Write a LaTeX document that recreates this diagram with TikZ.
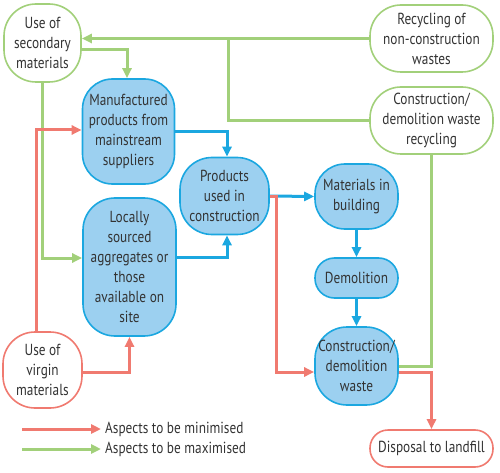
\documentclass[tikz,border=0pt]{standalone}
\usepackage{fontspec}
\setmainfont{PT Sans}[FakeStretch=0.83]
\usetikzlibrary{arrows.meta}
\definecolor{bfill}{HTML}{9CD0F0}
\definecolor{bline}{HTML}{1BA7E0}
\definecolor{gline}{HTML}{A2D07A}
\definecolor{rline}{HTML}{F07A70}
\definecolor{txt}{HTML}{333333}
\tikzset{
  box/.style={draw, line width=1.6pt, rectangle, align=center, text=txt, inner sep=0pt,
    font=\fontsize{16}{20}\selectfont},
  bluebox/.style={box, draw=bline, fill=bfill},
  greenbox/.style={box, draw=gline, fill=white},
  redbox/.style={box, draw=rline, fill=white},
  conn/.style={line width=3pt, -{Triangle[length=10pt,width=9pt]}},
  gconn/.style={conn, draw=gline, color=gline},
  rconn/.style={conn, draw=rline, color=rline},
  bconn/.style={conn, draw=bline, color=bline},
  plain/.style={line width=3pt},
  legtext/.style={anchor=west, inner sep=0pt, text=txt, font=\fontsize{16}{18}\selectfont},
}
\begin{document}
\begin{tikzpicture}[x=1pt,y=-1pt]
\useasboundingbox (0,0) rectangle (500,473);
% nodes
\node[greenbox, minimum width=77, minimum height=78, rounded corners=32] (sec) at (42.5,43) {Use of\\secondary\\materials};
\node[greenbox, minimum width=123, minimum height=67, rounded corners=31] (nonc) at (431.5,38.5) {Recycling of\\non-construction\\wastes};
\node[greenbox, minimum width=123, minimum height=67, rounded corners=31] (cdr) at (431.5,120.5) {Construction/\\demolition waste\\recycling};
\node[bluebox, minimum width=92, minimum height=105, rounded corners=30] (manu) at (128.5,131.5) {Manufactured\\products from\\mainstream\\suppliers};
\node[bluebox, minimum width=89, minimum height=77, rounded corners=32] (prod) at (224.5,196) {Products\\used in\\construction};
\node[bluebox, minimum width=93, minimum height=138, rounded corners=32] (loc) at (129.5,267) {Locally\\sourced\\aggregates or\\those\\available on\\site};
\node[bluebox, minimum width=83, minimum height=65, rounded corners=30] (mat) at (356.5,196.5) {Materials in\\building};
\node[bluebox, minimum width=83, minimum height=40, rounded corners=19.5] (dem) at (356.5,278) {Demolition};
\node[bluebox, minimum width=83, minimum height=78, rounded corners=32] (cdw) at (356.5,366) {Construction/\\demolition\\waste};
\node[redbox, minimum width=123, minimum height=37, rounded corners=18] (land) at (431.5,448.5) {Disposal to landfill};
\node[redbox, minimum width=79, minimum height=76, rounded corners=32] (vir) at (42.5,370) {Use of\\virgin\\materials};
% junction coordinates
\coordinate (j1) at (228,38.5);
\coordinate (rt) at (276,196);
% blue connectors
\draw[bconn] (manu.east) -| ([xshift=2.5pt]prod.north);
\draw[bconn] ([yshift=10pt]loc.east) -| ([xshift=2.5pt]prod.south);
\draw[bconn] (prod.east) -- (mat.west);
\draw[bconn] (mat.south) -- (dem.north);
\draw[bconn] (dem.south) -- (cdw.north);
% green connectors
\draw[gconn] (nonc.west) -- (sec.east |- nonc.west);
\draw[plain, draw=gline] (cdr.west) -| (j1);
\draw[gconn] ([yshift=-7pt]sec.east) -| ([xshift=-1.5pt]manu.north);
\draw[gconn] (sec.south) |- ([yshift=9pt]loc.west);
\draw[plain, draw=gline] (cdw.east) -| (cdr.south);
% red connectors
\draw[rconn] ([xshift=-6pt]vir.north) |- ([yshift=1.5pt]manu.west);
\draw[rconn] ([yshift=-2pt]vir.east) -| (loc.south);
\draw[rconn] (prod.east) -- (rt) |- ([yshift=-6pt]cdw.west);
\draw[rconn] ([yshift=-6pt]cdw.east) -| (land.north);
% legend
\node[legtext] (lm) at (105,429) {Aspects to be minimised};
\node[legtext] (lx) at (105,449) {Aspects to be maximised};
\coordinate (lm0) at (22,429);
\coordinate (lx0) at (22,449);
\draw[rconn] (lm0) -- ([xshift=-4pt]lm.west);
\draw[gconn] (lx0) -- ([xshift=-4pt]lx.west);
\end{tikzpicture}
\end{document}
